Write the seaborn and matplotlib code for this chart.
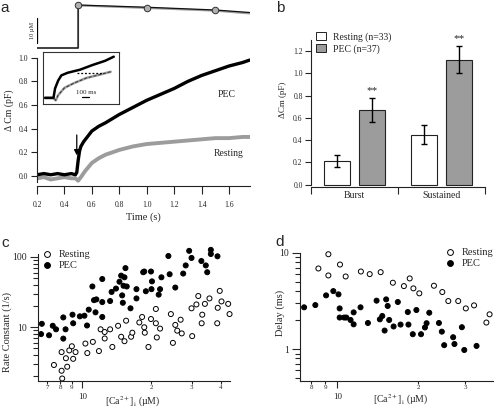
import numpy as np
import pandas as pd
import seaborn as sns
import matplotlib.pyplot as plt
from matplotlib.lines import Line2D
from matplotlib.patches import Patch
from matplotlib.ticker import FixedLocator, FuncFormatter, LogLocator, NullFormatter

sns.set_theme(style="ticks")
plt.rcParams["font.family"] = ["Liberation Serif", "DejaVu Serif"]
plt.rcParams["mathtext.fontset"] = "stix"
plt.rcParams["axes.linewidth"] = 0.8
plt.rcParams["axes.edgecolor"] = "#222222"

# ---- panel a: capacitance traces ----
pec_t = [0.20, 0.25, 0.30, 0.35, 0.40, 0.45, 0.48, 0.49, 0.50, 0.51, 0.52, 0.54, 0.56,
         0.60, 0.65, 0.70, 0.80, 0.90, 1.00, 1.10, 1.20, 1.30, 1.40, 1.50, 1.60, 1.70, 1.75]
pec_cm = [0.01, 0.02, 0.01, 0.02, 0.01, 0.02, 0.01, 0.03, 0.13, 0.21, 0.25, 0.29, 0.32,
          0.38, 0.42, 0.45, 0.52, 0.58, 0.64, 0.69, 0.74, 0.80, 0.85, 0.89, 0.93, 0.96, 0.98]
rest_t = [0.20, 0.25, 0.30, 0.35, 0.40, 0.45, 0.48, 0.50, 0.52, 0.55, 0.60, 0.65, 0.70,
          0.80, 0.90, 1.00, 1.10, 1.20, 1.30, 1.40, 1.50, 1.60, 1.70, 1.75]
rest_cm = [-0.02, -0.01, -0.03, -0.02, -0.01, -0.02, -0.02, -0.04, -0.01, 0.04, 0.11, 0.15, 0.18,
           0.22, 0.25, 0.27, 0.28, 0.29, 0.30, 0.31, 0.32, 0.32, 0.33, 0.33]

# Ca2+ step above the traces (uM)
ca_t = [0.2, 0.5, 0.5, 1.0, 1.5, 1.75]
ca_pec = [0.1, 0.1, 17.3, 16.4, 15.3, 14.3]
ca_rest = [0.1, 0.1, 17.1, 16.1, 15.0, 13.9]
ca_mark_t = [0.5, 1.0, 1.5]
ca_mark = [17.3, 16.3, 15.2]

# inset (ms, normalised)
ins_pec_t = [0, 32, 123, 146, 191, 237, 328, 510, 692, 874, 1001]
ins_pec = [0.12, 0.12, 0.12, 0.30, 0.45, 0.55, 0.60, 0.66, 0.75, 0.83, 0.91]
ins_rest_t = [0, 32, 123, 155, 191, 282, 419, 601, 783, 956]
ins_rest = [0.11, 0.11, 0.11, 0.07, 0.17, 0.31, 0.40, 0.50, 0.56, 0.62]

# ---- panel b ----
groups = ["Burst", "Sustained"]
rest_mean = [0.21, 0.45]
rest_sem = [0.055, 0.085]
pec_mean = [0.67, 1.12]
pec_sem = [0.105, 0.12]

# ---- panel c: rate constant vs [Ca2+]i ----
c_pec_ca = [6.65, 6.60, 7.15, 7.42, 7.67, 8.25, 8.25, 8.44, 9.05, 9.11, 9.74, 10.2, 10.47, 10.65,
            11.05, 11.23, 11.5, 11.4, 12.2, 12.2, 12.2, 13.2, 13.4, 14.0, 14.5, 14.75, 14.9, 15.0,
            15.1, 15.25, 15.4, 15.6, 16.2, 17.2, 17.2, 18.4, 18.6, 18.9, 19.9, 20.1, 20.0, 21.5,
            21.8, 22.1, 23.7, 24.0, 25.4, 27.5, 28.2, 29.2, 29.9, 33.0, 34.5, 35.0, 36.3, 36.3, 38.8]
c_pec_k = [11.2, 8.0, 7.7, 10.5, 9.35, 13.8, 6.9, 9.35, 15.1, 11.4, 14.3, 14.6, 10.6, 17.8,
           38, 24.3, 24.9, 16.3, 48.5, 22.8, 14.0, 23.6, 31.8, 35.5, 44.4, 54.2, 28.4, 22.3,
           38.9, 51.3, 69.3, 38, 18.6, 25.7, 34.8, 60.6, 62, 32.5, 62, 44.9, 34.8, 29.1,
           34.8, 51.3, 103, 56.7, 36.7, 58, 75.7, 122, 96.7, 87.5, 75.7, 60.6, 126, 110, 102]
c_rest_ca = [7.51, 8.11, 8.11, 8.16, 8.47, 8.58, 8.76, 8.99, 9.11, 9.33, 10.3, 10.5, 11.1, 11.8,
             12.0, 12.5, 12.5, 13.2, 13.5, 14.3, 14.75, 15.25, 15.5, 16.3, 16.5, 17.7, 18.2, 18.6,
             18.7, 19.4, 19.9, 20.9, 20.9, 21.1, 21.8, 24.3, 24.8, 25.4, 25.9, 26.8, 27.1, 30.1,
             29.9, 31.4, 32.0, 33.3, 33.1, 34.2, 35.8, 38.7, 38.9, 39.7, 40.4, 43.2, 43.8]
c_rest_k = [2.91, 4.44, 2.41, 1.87, 3.63, 2.75, 4.69, 5.37, 3.56, 4.44, 5.87, 4.30, 6.2, 4.59,
            9.35, 8.56, 6.93, 9.35, 5.25, 10.5, 7.33, 6.34, 12.4, 7.33, 8.37, 11.7, 14.0, 10.0,
            8.37, 5.25, 13.1, 18.2, 11.4, 7.16, 9.57, 15.4, 6.0, 10.8, 8.95, 12.8, 8.18, 7.49,
            18.6, 21.1, 27.8, 15.1, 11.4, 21.5, 25.7, 11.4, 18.9, 32.9, 23.3, 21.5, 15.4]

# ---- panel d: delay vs [Ca2+]i ----
d_rest_ca = [8.50, 9.26, 9.26, 10.23, 10.74, 12.24, 13.2, 14.5, 16.1, 17.7, 18.6, 19.2, 20.2,
             22.9, 24.6, 25.9, 28.2, 30.1, 32.3, 35.9, 36.9]
d_rest_delay = [6.89, 9.69, 5.83, 7.57, 5.69, 6.41, 6.02, 6.31, 4.9, 4.52, 5.43, 4.28, 3.80,
                4.56, 3.92, 3.16, 3.16, 2.65, 2.85, 1.89, 2.30]
d_pec_ca = [7.52, 8.28, 9.08, 9.66, 10.1, 10.2, 10.2, 10.6, 10.8, 11.2, 11.5, 11.5, 12.2, 13.0,
            14.0, 14.4, 14.7, 15.0, 15.2, 15.4, 15.6, 16.2, 16.8, 17.2, 18.3, 18.4, 19.1, 19.7,
            20.5, 21.2, 21.5, 22.0, 23.9, 24.5, 25.0, 27.0, 27.3, 29.1, 29.7, 33.0]
d_pec_delay = [2.72, 2.87, 3.62, 4.01, 3.71, 2.65, 2.13, 2.13, 2.13, 2.01, 2.41, 1.81, 2.72, 1.87,
               3.19, 2.04, 2.21, 1.56, 3.29, 2.81, 2.01, 1.72, 3.09, 1.80, 2.43, 1.80, 1.43, 2.55,
               1.43, 1.68, 1.86, 2.39, 1.87, 1.52, 1.10, 1.33, 1.13, 1.69, 0.98, 1.08]

GRAY = "#9c9c9c"
W, H = 494, 409


def box(l, t, r, b):
    return [l / W, 1 - b / H, (r - l) / W, (b - t) / H]


fig = plt.figure(figsize=(W / 100, H / 100), dpi=100)

# ================= panel a =================
axa = fig.add_axes(box(37, 54.2, 250, 186))
sns.lineplot(x=rest_t, y=rest_cm, estimator=None, sort=False, color=GRAY, lw=2.8, ax=axa)
sns.lineplot(x=pec_t, y=pec_cm, estimator=None, sort=False, color="black", lw=2.4, ax=axa)
axa.set_xlim(0.2, 1.753)
axa.set_ylim(-0.085, 1.03)
axa.spines[["top", "right"]].set_visible(False)
axa.spines["left"].set_bounds(-0.05, 1.0)
axa.set_xticks(np.arange(0.2, 1.61, 0.2))
axa.set_yticks(np.arange(0, 1.01, 0.2))
axa.xaxis.set_major_formatter(FuncFormatter(lambda v, p: f"{v:.1f}"))
axa.yaxis.set_major_formatter(FuncFormatter(lambda v, p: f"{v:.1f}"))
axa.tick_params(axis="x", length=5.5, width=0.8, pad=5, labelsize=5.5, colors="#222222")
axa.tick_params(axis="y", length=4.3, width=0.8, pad=2, labelsize=5.5, colors="#222222")
axa.set_xlabel("Time (s)", fontsize=7.5, labelpad=3)
axa.set_ylabel("Δ Cm (pF)", fontsize=7)
axa.yaxis.set_label_coords(-0.106, 0.577)
axa.text(1.586, 0.69, "PEC", fontsize=7, ha="center", va="center")
axa.text(1.60, 0.186, "Resting", fontsize=7, ha="center", va="center")
axa.annotate("", xy=(0.49, 0.15), xytext=(0.49, 0.37),
             arrowprops=dict(arrowstyle="-|>", color="black", lw=0.9, mutation_scale=8))

# Ca2+ trace above
axca = fig.add_axes(box(37, 2, 250, 52), sharex=axa)
sns.lineplot(x=ca_t, y=ca_rest, estimator=None, sort=False, color=GRAY, lw=1.4, ax=axca)
sns.lineplot(x=ca_t, y=ca_pec, estimator=None, sort=False, color="#111111", lw=0.9, ax=axca)
sns.scatterplot(x=ca_mark_t, y=ca_mark, s=22, color="#b0b0b0", edgecolor="#333333",
                linewidth=0.7, ax=axca, zorder=3, clip_on=False)
axca.plot([0.2, 0.2], [2.1, 12.1], color="black", lw=0.9)
axca.text(0.165, 7.1, "10 µM", rotation=90, fontsize=4.5, ha="center", va="center")
axca.set_ylim(-1.5, 18.5)
axca.axis("off")

# inset
axi = fig.add_axes(box(43, 52, 118.5, 104))
sns.lineplot(x=ins_rest_t, y=ins_rest, estimator=None, sort=False, color=GRAY, lw=1.8, ax=axi)
axi.plot(ins_rest_t, ins_rest, color="#333333", lw=0.7, ls=(0, (3, 2)))
sns.lineplot(x=ins_pec_t, y=ins_pec, estimator=None, sort=False, color="black", lw=1.8, ax=axi)
axi.plot([464, 829], [0.60, 0.60], color="black", lw=0.9, ls=(0, (1.5, 1.5)))
axi.plot([545, 645], [0.13, 0.13], color="black", lw=0.9)
axi.text(595, 0.17, "100 ms", fontsize=5, ha="center", va="bottom")
axi.set_xlim(-30, 1070)
axi.set_ylim(0, 1)
axi.set_xticks([])
axi.set_yticks([])
for s in axi.spines.values():
    s.set_color("#333333")
    s.set_linewidth(0.8)

# ================= panel b =================
axb = fig.add_axes(box(311, 39.8, 485, 187))
conds = ["Resting (n=33)", "PEC (n=37)"]
df_b = pd.DataFrame({
    "group": groups * 2,
    "cond": [conds[0]] * 2 + [conds[1]] * 2,
    "value": rest_mean + pec_mean,
})
sns.barplot(data=df_b, x="group", y="value", hue="cond", hue_order=conds,
            palette={conds[0]: "white", conds[1]: GRAY}, edgecolor="#222222", linewidth=0.8,
            width=0.8, gap=0.25, errorbar=None, legend=False, ax=axb)
for cont, means, sems in zip(axb.containers, [rest_mean, pec_mean], [rest_sem, pec_sem]):
    xs = [bar.get_x() + bar.get_width() / 2 for bar in cont]
    axb.errorbar(xs, means, yerr=sems, fmt="none", ecolor="black", elinewidth=1.0,
                 capsize=2.2, capthick=1.0)
    if cont is axb.containers[1]:
        for x, m, e in zip(xs, means, sems):
            axb.text(x, m + e + 0.03, "**", fontsize=8, ha="center", va="bottom")
axb.set_xlim(-0.5, 1.5)
axb.set_ylim(-0.02, 1.3)
axb.spines[["top", "right"]].set_visible(False)
axb.spines["left"].set_bounds(0, 1.3)
axb.set_yticks(np.arange(0, 1.21, 0.2))
axb.yaxis.set_major_formatter(FuncFormatter(lambda v, p: f"{v:.1f}"))
axb.xaxis.set_minor_locator(FixedLocator([-0.5, 0.5, 1.5]))
axb.tick_params(axis="x", which="major", length=0, pad=3, labelsize=7)
axb.tick_params(axis="x", which="minor", length=5, width=0.8)
axb.tick_params(axis="y", length=4, width=0.8, pad=2, labelsize=5.5)
axb.set_xlabel("")
axb.set_ylabel("ΔCm (pF)", fontsize=6.5)
axb.yaxis.set_label_coords(-0.138, 0.591)
axb.legend(handles=[Patch(facecolor="white", edgecolor="#222222", lw=0.7),
                    Patch(facecolor=GRAY, edgecolor="#222222", lw=0.7)],
           labels=conds, loc="upper left", bbox_to_anchor=(316 / W, 1 - 32 / H),
           bbox_transform=fig.transFigure, frameon=False, fontsize=7,
           handlelength=1.0, handleheight=0.8, handletextpad=0.7, labelspacing=0.25,
           borderpad=0, borderaxespad=0)


def igor_log_x(ax, minors):
    ax.xaxis.set_major_locator(FixedLocator([10]))
    ax.xaxis.set_major_formatter(FuncFormatter(lambda v, p: "10"))
    ax.xaxis.set_minor_locator(FixedLocator(minors))
    ax.xaxis.set_minor_formatter(FuncFormatter(
        lambda v, p: str(int(round(v))) if v < 10 else str(int(round(v / 10)))))
    ax.tick_params(axis="x", which="major", length=5, width=0.8, pad=3.5, labelsize=6.5)
    ax.tick_params(axis="x", which="minor", length=2.5, width=0.8, pad=0.5, labelsize=5)
    ax.yaxis.set_major_locator(LogLocator(base=10))
    ax.yaxis.set_major_formatter(FuncFormatter(lambda v, p: f"{v:g}"))
    ax.yaxis.set_minor_locator(LogLocator(base=10, subs=np.arange(2, 10)))
    ax.yaxis.set_minor_formatter(NullFormatter())
    ax.tick_params(axis="y", which="major", length=6, width=0.8, pad=2, labelsize=7)
    ax.tick_params(axis="y", which="minor", length=3.5, width=0.8)
    ax.spines[["top", "right"]].set_visible(False)


leg_handles = [Line2D([], [], ls="", marker="o", ms=4.2, mfc="white", mec="black", mew=0.7),
               Line2D([], [], ls="", marker="o", ms=4.2, mfc="black", mec="black", mew=0.7)]
ca_label = "[Ca$^{2+}$]$_{\\mathrm{i}}$ (µM)"

# ================= panel c =================
axc = fig.add_axes(box(37.7, 254, 230, 380.7))
df_c = pd.DataFrame({
    "ca": c_rest_ca + c_pec_ca,
    "k": c_rest_k + c_pec_k,
    "cond": ["Resting"] * len(c_rest_ca) + ["PEC"] * len(c_pec_ca),
})
sns.scatterplot(data=df_c, x="ca", y="k", hue="cond", palette={"Resting": "white", "PEC": "black"},
                edgecolor="black", linewidth=0.7, s=13, legend=False, clip_on=False, ax=axc)
axc.set(xscale="log", yscale="log")
axc.set_xlim(6.38, 44)
axc.set_ylim(1.74, 110)
igor_log_x(axc, [7, 8, 9, 20, 30, 40])
axc.set_xlabel(ca_label, fontsize=7)
axc.xaxis.set_label_coords(0.496, -0.108)
axc.set_ylabel("Rate Constant (1/s)", fontsize=7.5)
axc.yaxis.set_label_coords(-0.133, 0.384)
axc.legend(handles=leg_handles, labels=["Resting", "PEC"], loc="upper left",
           bbox_to_anchor=(42 / W, 1 - 250 / H), bbox_transform=fig.transFigure,
           frameon=False, fontsize=7.5, handlelength=1.0, handletextpad=0.6,
           labelspacing=0.15, borderpad=0, borderaxespad=0)

# ================= panel d =================
axd = fig.add_axes(box(300, 252.7, 493, 380.7))
df_d = pd.DataFrame({
    "ca": d_rest_ca + d_pec_ca,
    "delay": d_rest_delay + d_pec_delay,
    "cond": ["Resting"] * len(d_rest_ca) + ["PEC"] * len(d_pec_ca),
})
sns.scatterplot(data=df_d, x="ca", y="delay", hue="cond",
                palette={"Resting": "white", "PEC": "black"},
                edgecolor="black", linewidth=0.7, s=13, legend=False, clip_on=False, ax=axd)
axd.set(xscale="log", yscale="log")
axd.set_xlim(7.26, 38)
axd.set_ylim(0.47, 10.05)
igor_log_x(axd, [8, 9, 20, 30])
axd.set_xlabel(ca_label, fontsize=7)
axd.xaxis.set_label_coords(0.523, -0.096)
axd.set_ylabel("Delay (ms)", fontsize=7.5)
axd.yaxis.set_label_coords(-0.078, 0.527)
axd.legend(handles=leg_handles, labels=["Resting", "PEC"], loc="upper left",
           bbox_to_anchor=(445 / W, 1 - 248 / H), bbox_transform=fig.transFigure,
           frameon=False, fontsize=7.5, handlelength=1.0, handletextpad=0.6,
           labelspacing=0.15, borderpad=0, borderaxespad=0)

# panel letters
for lab, x, y in [("a", 5, 8), ("b", 280, 8), ("c", 5, 243), ("d", 280, 242)]:
    fig.text(x / W, 1 - y / H, lab, fontsize=11, family=["Liberation Sans", "DejaVu Sans"],
             ha="center", va="center")

fig.savefig("out.png", dpi=100)
